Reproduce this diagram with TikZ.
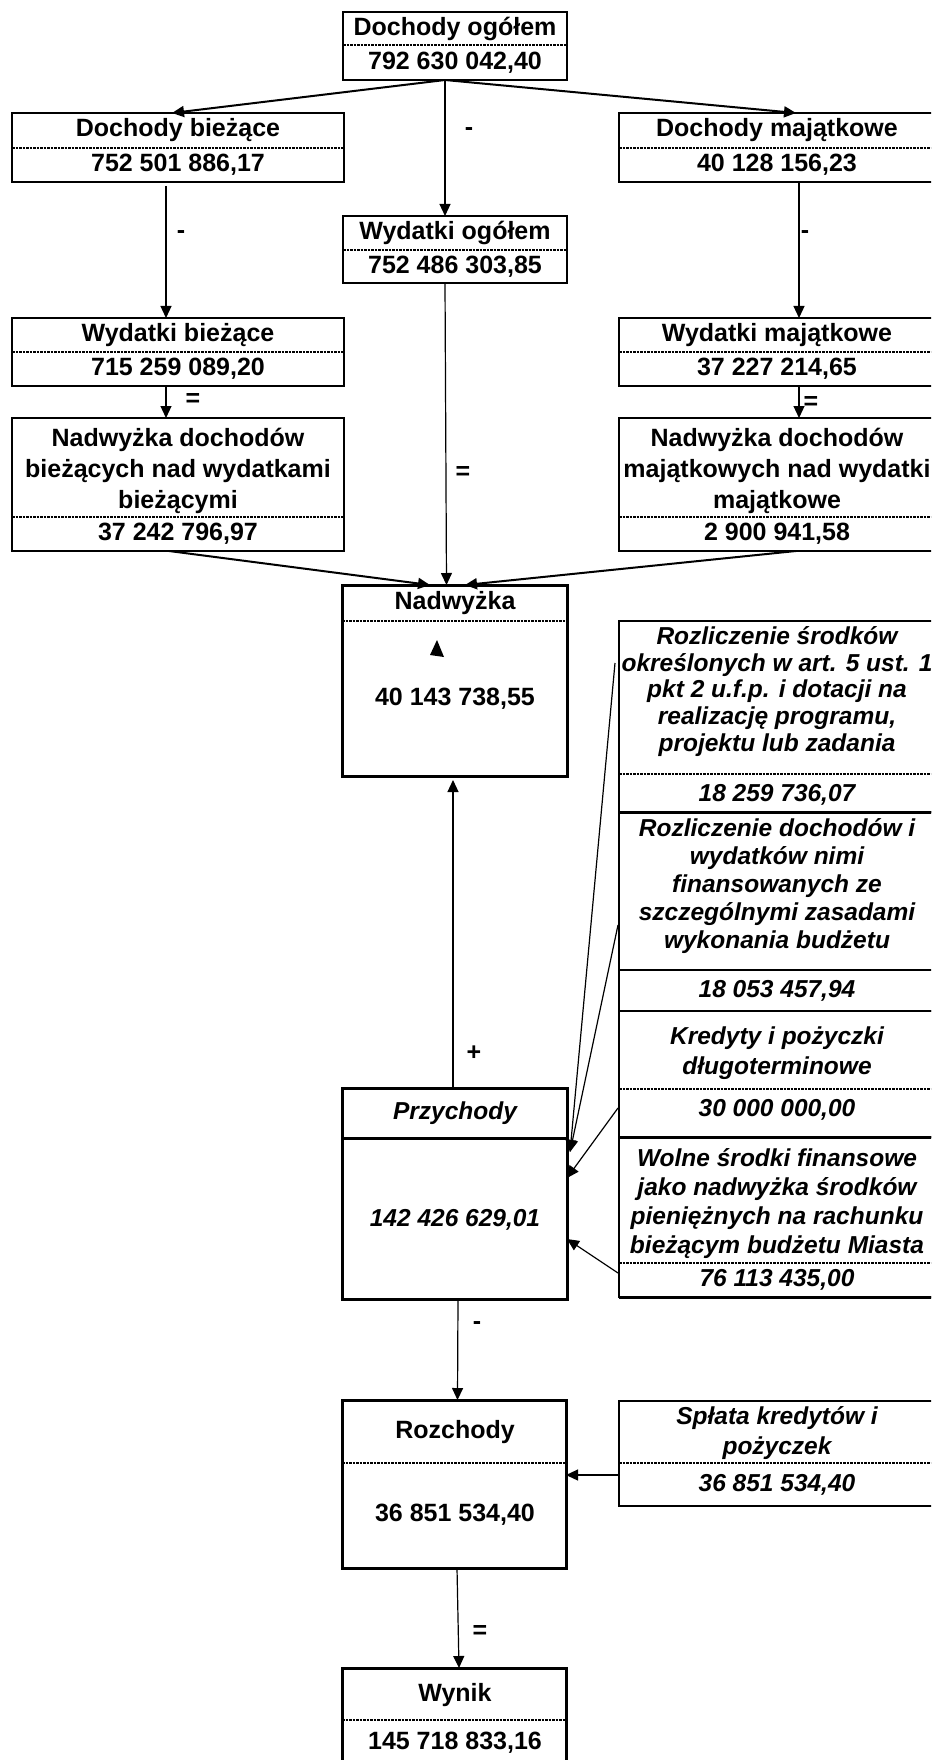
\documentclass[tikz,border=0pt]{standalone}
\usepackage{fontspec}
\setmainfont{Liberation Sans}
\usetikzlibrary{arrows.meta,calc}

\begin{document}
\begin{tikzpicture}[
  x=1pt, y=-1pt, >={Triangle[length=12pt,width=11pt]},
  box/.style={draw, line width=1.5pt, anchor=north west, inner sep=0pt, outer sep=0pt},
  heavy/.style={box, line width=3pt},
  hd/.style={font=\fontsize{25}{#1}\selectfont\bfseries, align=center, inner sep=0pt},
  hd/.default=28,
  it/.style={font=\fontsize{24.5}{#1}\selectfont\bfseries\itshape, align=center, inner sep=0pt},
  it/.default=28,
  op/.style={font=\fontsize{25}{28}\selectfont\bfseries, inner sep=0pt},
  divd/.style={line width=2pt, dash pattern=on 2.5pt off 1pt},
  conn/.style={->, line width=1.2pt},
  fat/.style={->, line width=2pt},
]
  \useasboundingbox (0,0) rectangle (931,1760);
  \clip (0,0) rectangle (931,1760);

  % boxes
  \node[box, minimum width=224pt, minimum height=68pt] (dog) at (343,12) {};
  \node[box, minimum width=332pt, minimum height=69pt] (dbi) at (12,113) {};
  \node[box, minimum width=316pt, minimum height=69pt] (dma) at (619,113) {};
  \node[box, minimum width=224pt, minimum height=67pt] (wog) at (343,216) {};
  \node[box, minimum width=332pt, minimum height=68pt] (wbi) at (12,318) {};
  \node[box, minimum width=316pt, minimum height=68pt] (wma) at (619,318) {};
  \node[box, minimum width=332pt, minimum height=133pt] (nbi) at (12,418) {};
  \node[box, minimum width=316pt, minimum height=133pt] (nma) at (619,418) {};
  \node[heavy, minimum width=225pt, minimum height=191pt] (nad) at (342,585) {};
  \node[box, minimum width=317pt, minimum height=191pt] (r1) at (619,621) {};
  \node[box, minimum width=317pt, minimum height=199pt] (r2) at (619,812) {};
  \node[box, minimum width=317pt, minimum height=126pt] (r3) at (619,1011) {};
  \node[box, minimum width=317pt, minimum height=160pt] (r4) at (619,1137) {};
  \node[heavy, minimum width=225pt, minimum height=211pt] (prz) at (342,1088) {};
  \node[heavy, minimum width=224pt, minimum height=168pt] (roz) at (342,1400) {};
  \node[box, minimum width=317pt, minimum height=105pt] (spl) at (619,1401) {};
  \node[heavy, minimum width=224pt, minimum height=100pt] (wyn) at (342,1668) {};

  % dividers
  \foreach \b/\d in {dog/33, dbi/35, dma/35, wog/34, wbi/34, wma/34, nbi/99, nma/99,
                     nad/36, r1/153, r3/78, r4/126, roz/63, spl/62, wyn/52}
    \draw[divd] ($(\b.north west)+(0,\d)$) -- ($(\b.north east)+(0,\d)$);
  \draw[line width=1.5pt] ($(r2.north west)+(0,158)$) -- ($(r2.north east)+(0,158)$);
  \draw[line width=3pt] ($(prz.north west)+(0,50)$) -- ($(prz.north east)+(0,50)$);
  \foreach \b in {r1,r3,r4}
    \draw[line width=3pt] (\b.south west) -- (\b.south east);

  % texts
  \node[hd] (dog-t) at (455,29) {Dochody ogółem};
  \node[hd] (dog-v) at (455,63) {792 630 042,40};
  \node[hd] (dbi-t) at (178,130) {Dochody bieżące};
  \node[hd] (dbi-v) at (178,165) {752 501 886,17};
  \node[hd] (dma-t) at (777,130) {Dochody majątkowe};
  \node[hd] (dma-v) at (777,165) {40 128 156,23};
  \node[hd] (wog-t) at (455,233) {Wydatki ogółem};
  \node[hd] (wog-v) at (455,267) {752 486 303,85};
  \node[hd] (wbi-t) at (178,335) {Wydatki bieżące};
  \node[hd] (wbi-v) at (178,369) {715 259 089,20};
  \node[hd] (wma-t) at (777,335) {Wydatki majątkowe};
  \node[hd] (wma-v) at (777,369) {37 227 214,65};
  \node[hd=31] (nbi-t) at (178,471) {Nadwyżka dochodów\\bieżących nad wydatkami\\bieżącymi};
  \node[hd] (nbi-v) at (178,534) {37 242 796,97};
  \node[hd=31] (nma-t) at (777,471) {Nadwyżka dochodów\\majątkowych nad wydatki\\majątkowe};
  \node[hd] (nma-v) at (777,534) {2 900 941,58};
  \node[hd] (nad-t) at (455,603) {Nadwyżka};
  \node[hd] (nad-v) at (455,699) {40 143 738,55};
  \node[it=26.75] (r1-t) at (777,691.5) {Rozliczenie środków\\określonych w art. 5 ust. 1\\pkt 2 u.f.p. i dotacji na\\realizację programu,\\projektu lub zadania};
  \node[it] (r1-v) at (777,795) {18 259 736,07};
  \node[it] (r2-t) at (777,886) {Rozliczenie dochodów i\\wydatków nimi\\finansowanych ze\\szczególnymi zasadami\\wykonania budżetu};
  \node[it] (r2-v) at (777,991) {18 053 457,94};
  \node[it=30] (r3-t) at (777,1053) {Kredyty i pożyczki\\długoterminowe};
  \node[it] (r3-v) at (777,1110) {30 000 000,00};
  \node[it=29] (r4-t) at (777,1203.5) {Wolne środki finansowe\\jako nadwyżka środków\\pieniężnych na rachunku\\bieżącym budżetu Miasta};
  \node[it] (r4-v) at (777,1280) {76 113 435,00};
  \node[it] (prz-t) at (455,1113) {Przychody};
  \node[it] (prz-v) at (455,1220) {142 426 629,01};
  \node[hd] (roz-t) at (455,1432) {Rozchody};
  \node[hd] (roz-v) at (455,1515) {36 851 534,40};
  \node[it=30] (spl-t) at (777,1433) {Spłata kredytów i\\pożyczek};
  \node[it] (spl-v) at (777,1485) {36 851 534,40};
  \node[hd] (wyn-t) at (455,1695) {Wynik};
  \node[hd] (wyn-v) at (455,1743) {145 718 833,16};

  % operators
  \node[op] (m1) at (469,132) {-};
  \node[op] (m2) at (181,235) {-};
  \node[op] (m3) at (805,235) {-};
  \node[op] (e1) at (193,400) {=};
  \node[op] (e2) at (811,403) {=};
  \node[op] (e3) at (463,473) {=};
  \node[op] (p1) at (474,1053) {+};
  \node[op] (m4) at (477,1325) {-};
  \node[op] (e4) at (480,1632) {=};

  % connectors
  \draw[fat] ($(dog.south)+(-10,0)$) -- ($(dbi.north)+(-6,0)$);
  \draw[fat] ($(dog.south)+(-10,0)$) -- ($(dma.north)+(19,0)$);
  \draw[conn] ($(dog.south)+(-10,0)$) -- ($(wog.north)+(-10,0)$);
  \draw[conn] ($(dbi.south)+(-12,4)$) -- ($(wbi.north)+(-12,0)$);
  \draw[conn] ($(dma.south)+(22,0)$) -- ($(wma.north)+(22,0)$);
  \draw[conn] ($(wbi.south)+(-12,0)$) -- ($(nbi.north)+(-12,0)$);
  \draw[conn] ($(wma.south)+(22,0)$) -- ($(nma.north)+(22,0)$);
  \draw[fat] ($(nbi.south)+(-9,0)$) -- ($(nad.north)+(-24.5,0)$);
  \draw[conn] ($(wog.south)+(-10,0)$) -- ($(nad.north)+(-8,0)$);
  \draw[fat] ($(nma.south)+(19,0)$) -- ($(nad.north)+(10.5,0)$);
  \draw[conn] ($(prz.north)+(-1.5,0)$) -- ($(nad.south)+(-1.5,4)$);
  \draw[conn] ($(r1.north west)+(-4,42)$) -- ($(prz.north east)+(3,64)$);
  \draw[conn] ($(r2.north west)+(-1,113)$) -- ($(prz.north east)+(3,64)$);
  \draw[conn] ($(r3.north west)+(-1,97)$) -- ($(prz.north east)+(0,90)$);
  \draw[conn] ($(r4.north west)+(-1,136)$) -- ($(prz.north east)+(0,151)$);
  \draw[conn] ($(prz.south)+(3.5,0)$) -- ($(roz.north)+(3.5,0)$);
  \draw[conn] ($(spl.west)+(0,21.5)$) -- ($(roz.east)+(0,-9)$);
  \draw[conn] ($(roz.south)+(3,0)$) -- ($(wyn.north)+(5,0)$);

  \fill (437,640) -- (430,655) -- (444,657) -- cycle;
\end{tikzpicture}
\end{document}
